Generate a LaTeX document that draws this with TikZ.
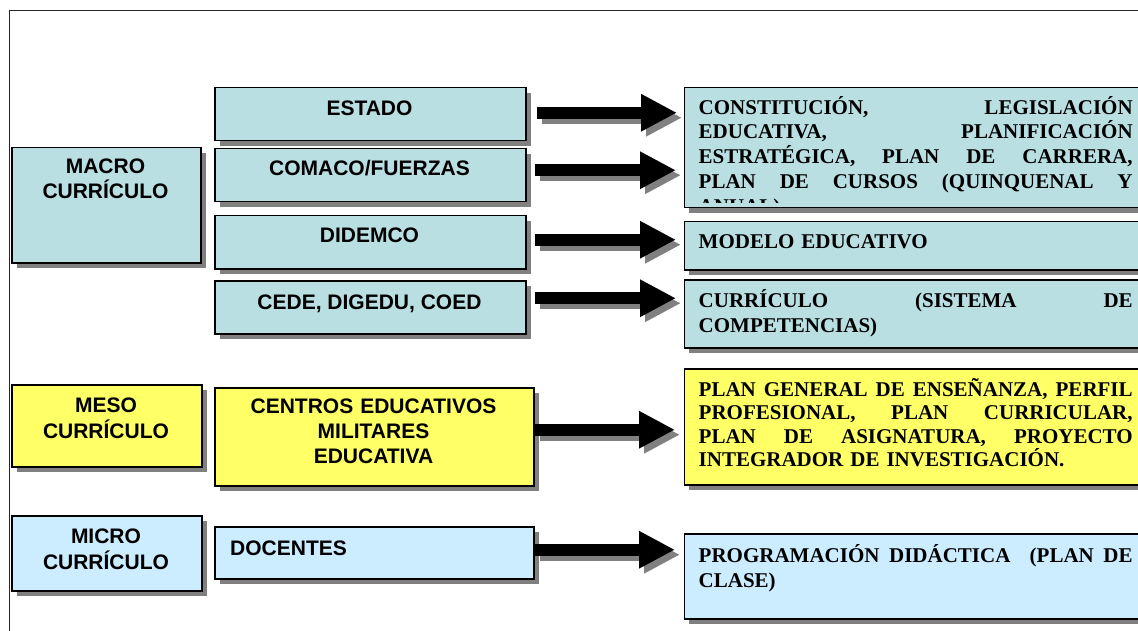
\documentclass[tikz,border=0pt]{standalone}
\usepackage{fontspec}
\setmainfont{Liberation Serif}
\setsansfont{Liberation Sans}
\usetikzlibrary{arrows.meta,shadows}
\definecolor{macroc}{RGB}{185,223,227}
\definecolor{mesoc}{RGB}{255,255,102}
\definecolor{microc}{RGB}{204,236,255}
\definecolor{shadowc}{RGB}{128,128,128}
\newcommand{\jline}[1]{\makebox[434pt][s]{\spaceskip=0pt\xspaceskip=0pt\relax #1}}
\tikzset{
  cbox/.style={draw=black, line width=1.5pt, inner sep=0pt, anchor=north west,
    drop shadow={shadow xshift=5pt, shadow yshift=-5pt, fill=shadowc, opacity=1}},
  stext/.style={font=\sffamily\bfseries\fontsize{21}{25}\selectfont, inner sep=0pt, align=center},
  rtext/.style={font=\rmfamily\bfseries\fontsize{21}{24.7}\selectfont, inner sep=0pt,
    text width=434pt, align=left, anchor=base west},
  bigarrow/.style={line width=12pt, -{Triangle[length=36pt,width=35pt]}},
  arrowshadow/.style={bigarrow, draw=shadowc, fill=shadowc, transform canvas={xshift=5pt,yshift=-5pt}},
}
\begin{document}
\begin{tikzpicture}[x=1pt,y=-1pt]
\useasboundingbox (0,0) rectangle (1138,631);
\clip (0,0) rectangle (1138,631);
\draw[line width=1pt, black!85] (9,11) rectangle (1170,680);
% left column
\node[cbox, fill=macroc, minimum width=189pt, minimum height=115pt] (macro) at (11,147) {};
\node[cbox, fill=mesoc, minimum width=190pt, minimum height=82pt] (meso) at (11,384) {};
\node[cbox, fill=microc, minimum width=190pt, minimum height=75pt] (micro) at (11,515) {};
% middle column
\node[cbox, fill=macroc, minimum width=311pt, minimum height=53pt] (estado) at (214,87) {};
\node[cbox, fill=macroc, minimum width=311pt, minimum height=53pt] (comaco) at (214,148) {};
\node[cbox, fill=macroc, minimum width=311pt, minimum height=53pt] (didemco) at (214,215) {};
\node[cbox, fill=macroc, minimum width=311pt, minimum height=53pt] (cede) at (214,280) {};
\node[cbox, fill=mesoc, minimum width=319pt, minimum height=98pt] (centros) at (214,387) {};
\node[cbox, fill=microc, minimum width=319pt, minimum height=52pt] (docentes) at (214,526) {};
% right column
\node[cbox, fill=macroc, minimum width=480pt, minimum height=120pt] (constit) at (683.5,87) {};
\node[cbox, fill=macroc, minimum width=480pt, minimum height=48pt] (modelo) at (683.5,221) {};
\node[cbox, fill=macroc, minimum width=480pt, minimum height=68pt] (curric) at (683.5,279) {};
\node[cbox, fill=mesoc, minimum width=480pt, minimum height=116pt] (plangen) at (683.5,368) {};
\node[cbox, fill=microc, minimum width=480pt, minimum height=85pt] (program) at (683.5,533) {};
% left texts
\node[stext, text width=189pt, anchor=base] (macroT) at (105.5,174) {MACRO\\CURRÍCULO};
\node[stext, text width=190pt, anchor=base, font=\sffamily\bfseries\fontsize{21}{26}\selectfont] (mesoT) at (106,412) {MESO\\CURRÍCULO};
\node[stext, text width=190pt, anchor=base, font=\sffamily\bfseries\fontsize{21}{26}\selectfont] (microT) at (106,543) {MICRO\\CURRÍCULO};
\node[stext, anchor=base] (estadoT) at (369.5,116) {ESTADO};
\node[stext, anchor=base] (comacoT) at (369.5,176) {COMACO/FUERZAS};
\node[stext, anchor=base] (didemcoT) at (369.5,243) {DIDEMCO};
\node[stext, anchor=base] (cedeT) at (369.5,309) {CEDE, DIGEDU, COED};
\node[stext, text width=319pt, anchor=base] (centrosT) at (373.5,413) {CENTROS EDUCATIVOS\\MILITARES\\EDUCATIVA};
\node[stext, anchor=base west] (docentesT) at (230,555) {DOCENTES};
% right texts
\begin{scope}
\clip (685,88) rectangle (1138,202.5);
\node[rtext] (constitT) at (698.5,114.3) {\jline{CONSTITUCIÓN, LEGISLACIÓN}\\
\jline{EDUCATIVA, PLANIFICACIÓN}\\
\jline{ESTRATÉGICA, PLAN DE CARRERA,}\\
\jline{PLAN DE CURSOS (QUINQUENAL Y}\\
ANUAL)};
\end{scope}
\node[rtext] (modeloT) at (698.5,248) {MODELO EDUCATIVO};
\node[rtext, font=\rmfamily\bfseries\fontsize{21}{25}\selectfont] (curricT) at (698.5,307) {\jline{CURRÍCULO (SISTEMA DE}\\
COMPETENCIAS)};
\node[rtext, font=\rmfamily\bfseries\fontsize{21}{23.5}\selectfont] (plangenT) at (698.5,396) {\jline{PLAN GENERAL DE ENSEÑANZA, PERFIL}\\
\jline{PROFESIONAL, PLAN CURRICULAR,}\\
\jline{PLAN DE ASIGNATURA, PROYECTO}\\
INTEGRADOR DE INVESTIGACIÓN.};
\node[rtext, font=\rmfamily\bfseries\fontsize{21}{25}\selectfont] (programT) at (698.5,562) {\jline{PROGRAMACIÓN DIDÁCTICA \ (PLAN DE}\\
CLASE)};
% arrows
\coordinate (a1) at ([yshift=1.5pt]estado.east);
\coordinate (a2) at ([yshift=5pt]comaco.east);
\coordinate (a3) at ([yshift=2.5pt]didemco.east);
\coordinate (a4) at ([yshift=9pt]cede.east);
\coordinate (a5) at ([yshift=7pt]centros.east);
\coordinate (a6) at ([yshift=3pt]docentes.east);
\draw[arrowshadow, shorten <=10pt, shorten >=6.5pt] (a1) -- (a1 -| constit.west);
\draw[arrowshadow, shorten <=8pt, shorten >=7.5pt] (a2) -- (a2 -| constit.west);
\draw[arrowshadow, shorten <=8pt, shorten >=7.5pt] (a3) -- (a3 -| modelo.west);
\draw[arrowshadow, shorten <=8pt, shorten >=7.5pt] (a4) -- (a4 -| curric.west);
\draw[arrowshadow, shorten <=0pt, shorten >=8.5pt] (a5) -- (a5 -| plangen.west);
\draw[arrowshadow, shorten <=0pt, shorten >=8.5pt] (a6) -- (a6 -| program.west);
\draw[bigarrow, shorten <=10pt, shorten >=6.5pt] (a1) -- (a1 -| constit.west);
\draw[bigarrow, shorten <=8pt, shorten >=7.5pt] (a2) -- (a2 -| constit.west);
\draw[bigarrow, shorten <=8pt, shorten >=7.5pt] (a3) -- (a3 -| modelo.west);
\draw[bigarrow, shorten <=8pt, shorten >=7.5pt] (a4) -- (a4 -| curric.west);
\draw[bigarrow, shorten <=0pt, shorten >=8.5pt] (a5) -- (a5 -| plangen.west);
\draw[bigarrow, shorten <=0pt, shorten >=8.5pt] (a6) -- (a6 -| program.west);
\end{tikzpicture}
\end{document}
